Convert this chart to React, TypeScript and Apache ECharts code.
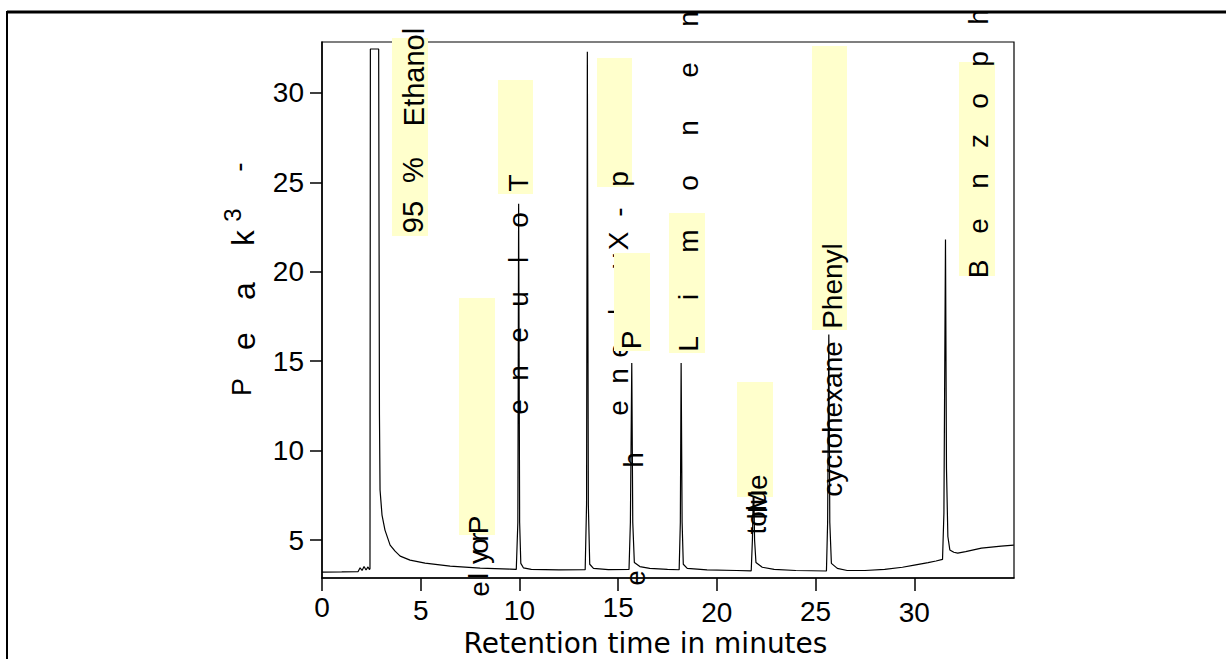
import React, { useEffect, useRef } from "react";
import * as echarts from "echarts";

// Retention time (minutes) and detector signal
const retentionTime = [
  0, 1.0, 1.83, 1.93, 2.03, 2.13, 2.23, 2.33, 2.4,
  2.43, 2.45, 2.87, 2.91, 2.94, 3.04, 3.19, 3.45, 3.7, 3.96, 4.46, 5.22, 6.49, 8.01, 9.53, 9.84,
  9.92, 9.96, 10.01, 10.07, 10.2, 10.6, 12.0, 13.33,
  13.4, 13.44, 13.49, 13.56, 13.75, 14.5, 15.55,
  15.62, 15.69, 15.74, 15.82, 16.1, 16.6, 17.5, 18.09,
  18.15, 18.19, 18.24, 18.3, 18.5, 19.5, 21.0, 21.74,
  21.8, 21.86, 21.91, 21.98, 22.3, 22.9, 24.0, 25.55,
  25.61, 25.67, 25.72, 25.8, 26.1, 26.6, 27.5, 28.5, 29.4, 30.0, 30.7, 31.1, 31.43,
  31.5, 31.58, 31.63, 31.7, 31.8, 32.0, 32.2, 32.6, 33.4, 34.4, 35.04,
];
const detectorSignal = [
  3.21, 3.22, 3.24, 3.45, 3.3, 3.52, 3.33, 3.5, 3.35,
  3.4, 32.46, 32.46, 12.0, 7.8, 6.4, 5.56, 4.72, 4.38, 4.1, 3.88, 3.71, 3.54, 3.43, 3.38, 3.36,
  6.0, 23.8, 6.0, 3.7, 3.45, 3.36, 3.33, 3.34,
  7.0, 32.3, 7.0, 3.65, 3.42, 3.35, 3.36,
  6.0, 14.9, 6.0, 3.75, 3.52, 3.42, 3.36, 3.34,
  6.0, 14.9, 6.0, 3.65, 3.42, 3.33, 3.3, 3.28,
  5.0, 8.5, 5.0, 3.75, 3.48, 3.36, 3.3, 3.27,
  6.0, 16.5, 6.0, 3.7, 3.42, 3.3, 3.3, 3.36, 3.48, 3.6, 3.74, 3.83, 3.92,
  6.5, 21.8, 9.0, 5.2, 4.45, 4.32, 4.27, 4.35, 4.55, 4.66, 4.72,
];

const xTickValues = [0, 5, 10, 15, 20, 25, 30];
const yTickValues = [5, 10, 15, 20, 25, 30];
const xRange = [0, 35.05];
const yRange = [2.88, 32.85];
const xTitle = "Retention time in minutes";

const SANS = "Liberation Sans";
const YELLOW = "#FFFFCC";

// small vertical jitter of the scanned x tick labels (px, downward)
const xLabelShift: Record<number, number> = { 0: 0, 5: 3, 10: 3, 15: 0, 20: 5, 25: 4, 30: 5 };

function vText(text: string, x: number, y: number, size = 28, z = 20, family = SANS) {
  return {
    type: "text",
    x,
    y,
    rotation: Math.PI / 2,
    z,
    silent: true,
    style: {
      text,
      x: 0,
      y: 0,
      align: "center",
      verticalAlign: "middle",
      fontSize: size,
      fontFamily: family,
      fill: "#000",
    },
  };
}

function hl(x: number, y: number, w: number, h: number, z = 10) {
  return {
    type: "rect",
    z,
    silent: true,
    shape: { x, y, width: w, height: h },
    style: { fill: YELLOW },
  };
}

function letters(chars: string[], x: number, ys: number[], size = 28, z = 20) {
  return chars.map((c, i) => vText(c, x, ys[i], size, z));
}

export default function App() {
  const ref = useRef<HTMLDivElement>(null);

  useEffect(() => {
    if (!ref.current) return;
    const chart = echarts.init(ref.current, undefined, { renderer: "svg" });

    const graphics: any[] = [
      // outer frame
      { type: "line", z: 30, shape: { x1: 7, y1: 12, x2: 1226, y2: 12 }, style: { stroke: "#000", lineWidth: 3 } },
      { type: "line", z: 30, shape: { x1: 7, y1: 11, x2: 7, y2: 659 }, style: { stroke: "#000", lineWidth: 2 } },

      // highlighter boxes
      hl(392, 38, 36, 198),
      hl(498, 80, 35, 114),
      hl(459, 298, 36, 237),
      hl(597, 58, 35, 129),
      hl(669, 213, 36, 140),
      hl(737, 382, 36, 115),
      hl(812, 46, 35, 284),
      hl(959, 62, 36, 214),

      // y axis title
      vText("P", 242, 387, 27),
      vText("e", 244, 341, 32),
      vText("a", 244, 291, 32),
      vText("k", 243, 238, 31),
      vText("3", 232, 215, 24),
      vText("-", 238, 167, 28),

      // 95 % Ethanol
      vText("95", 413, 217, 29),
      vText("%", 413, 170, 29),
      vText("Ethanol", 414, 77, 29),

      // Toluene (scattered letters)
      ...letters(["T", "o", "l", "u", "e", "n", "e"], 518, [183, 220, 260, 299, 335, 373, 407]),

      // p-Xylene (lower part hidden by the next box)
      ...letters(["p", "-", "X", "y", "l", "e", "n", "e"], 618, [179, 212, 241, 261, 312, 350, 376, 408], 28, 15),
      hl(614, 253, 36, 98, 16),
      vText("P", 631, 340),
      vText("h", 633, 460),
      vText("e", 635, 578),

      // Propyl... (near 8 min)
      vText("P", 478, 525),
      vText("r", 478, 537),
      vText("o", 478, 546),
      vText("y", 478, 557),
      vText("l", 478, 576),
      vText("e", 479, 589),

      // Limonene
      ...letters(["L", "i", "m", "o", "n", "e", "n"], 688, [344, 297, 241, 183, 128, 70, 19]),

      // 21.9 min cluster
      vText("tolu", 756, 512, 28),
      vText("lMe", 757, 497, 28),

      // cyclohexane Phenyl
      vText("cyclohexane", 832, 419, 28),
      vText("Phenyl", 832, 286, 28),

      // Benzoph...
      ...letters(["B", "e", "n", "z", "o", "p", "h"], 978, [269, 226, 181, 141, 101, 59, 17]),
    ];

    const rich: Record<string, any> = {};
    xTickValues.forEach((v) => {
      rich["s" + v] = { fontFamily: SANS, fontSize: 28, color: "#000", lineHeight: 22 + 2 * (xLabelShift[v] || 0) };
    });

    chart.setOption({
      animation: false,
      backgroundColor: "#fff",
      grid: {
        left: 322,
        top: 42,
        width: 692,
        height: 536,
        show: true,
        borderColor: "#000",
        borderWidth: 1.2,
        backgroundColor: "transparent",
        containLabel: false,
        outerBoundsMode: "none",
      },
      xAxis: {
        type: "value",
        min: xRange[0],
        max: xRange[1],
        name: xTitle,
        nameLocation: "middle",
        nameGap: 51,
        nameMoveOverlap: false,
        nameTextStyle: { fontFamily: "DejaVu Sans", fontSize: 28, color: "#000", padding: [0, 45, 0, 0] },
        axisLine: { show: true, onZero: false, lineStyle: { color: "#000", width: 1.5 } },
        axisTick: { show: true, length: 13, customValues: xTickValues, lineStyle: { color: "#000", width: 1.5 } },
        axisLabel: {
          customValues: xTickValues,
          margin: 18,
          fontFamily: SANS,
          fontSize: 28,
          color: "#000",
          formatter: (v: number) => `{s${v}|${v}}`,
          rich,
        },
        splitLine: { show: false },
      },
      yAxis: {
        type: "value",
        min: yRange[0],
        max: yRange[1],
        axisLine: { show: true, onZero: false, lineStyle: { color: "#000", width: 1.5 } },
        axisTick: { show: true, length: 12, customValues: yTickValues, lineStyle: { color: "#000", width: 1.5 } },
        axisLabel: { customValues: yTickValues, margin: 18, fontFamily: SANS, fontSize: 28, color: "#000" },
        splitLine: { show: false },
      },
      series: [
        {
          type: "line",
          data: retentionTime.map((t, i) => [t, detectorSignal[i]]),
          showSymbol: false,
          symbol: "none",
          lineStyle: { color: "#000", width: 1.2 },
          z: 2,
        },
      ],
      graphic: { elements: graphics },
    });

    return () => chart.dispose();
  }, []);

  return (
    <div
      ref={ref}
      style={{ position: "fixed", left: 0, top: 0, width: 1226, height: 659, background: "#fff" }}
    />
  );
}
